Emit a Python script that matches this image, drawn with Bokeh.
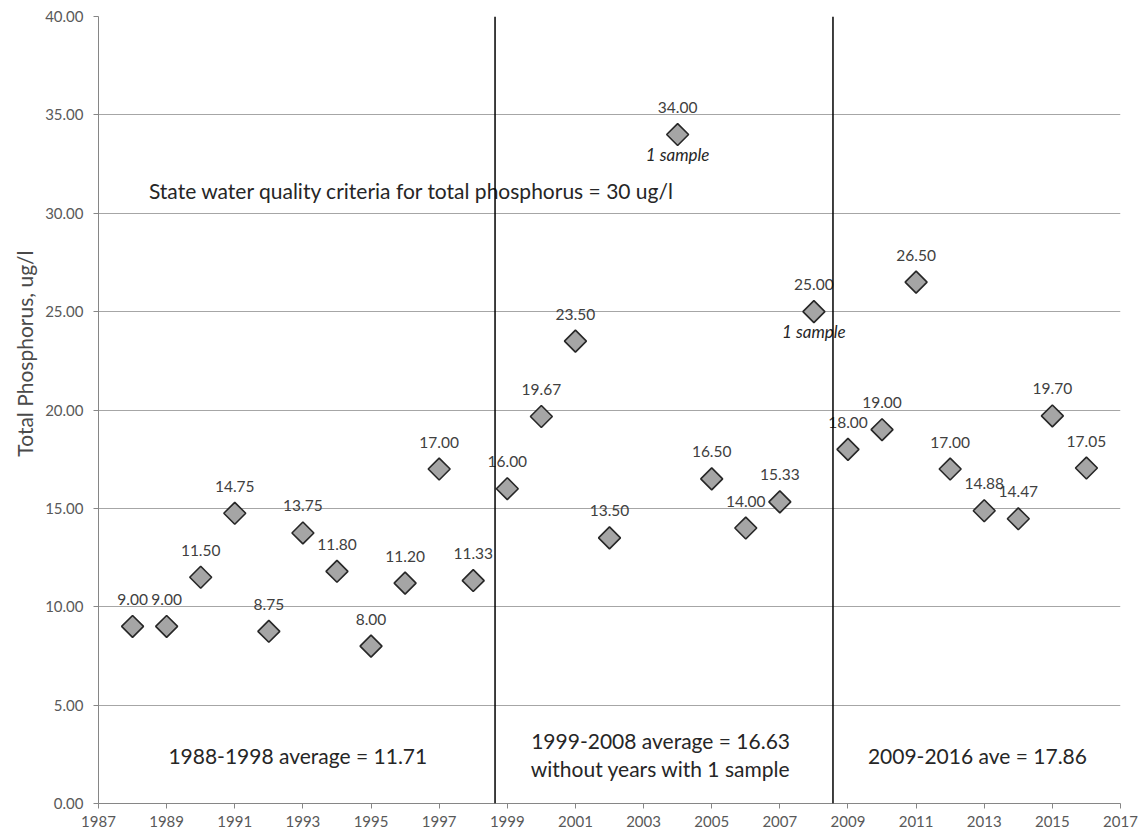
import math
from bokeh.plotting import figure
from bokeh.models import ColumnDataSource, Span, Title, NumeralTickFormatter, FixedTicker, Range1d
from bokeh.core.properties import value
from bokeh.embed import file_html
from bokeh.resources import INLINE

# ---- data ----
years = [1988, 1989, 1990, 1991, 1992, 1993, 1994, 1995, 1996, 1997, 1998,
         1999, 2000, 2001, 2002, 2004, 2005, 2006, 2007, 2008,
         2009, 2010, 2011, 2012, 2013, 2014, 2015, 2016]
phosphorus = [9.00, 9.00, 11.50, 14.75, 8.75, 13.75, 11.80, 8.00, 11.20, 17.00, 11.33,
              16.00, 19.67, 23.50, 13.50, 34.00, 16.50, 14.00, 15.33, 25.00,
              18.00, 19.00, 26.50, 17.00, 14.88, 14.47, 19.70, 17.05]
one_sample_years = [2004, 2008]
one_sample_values = [34.00, 25.00]
period_boundaries = [1998.64, 2008.56]
x_ticks = [1987, 1989, 1991, 1993, 1995, 1997, 1999, 2001, 2003, 2005, 2007,
           2009, 2011, 2013, 2015, 2017]
y_ticks = [0, 5, 10, 15, 20, 25, 30, 35, 40]
criteria_text = "State water quality criteria for total phosphorus = 30 ug/l"
period_texts = ["1988-1998 average = 11.71", "1999-2008 average = 16.63",
                "without years with 1 sample", "2009-2016 ave = 17.86"]
period_text_x = [1992.85, 2003.5, 2003.5, 2012.8]
period_text_y = [2.44, 3.2, 1.78, 2.44]
y_label = "Total Phosphorus, ug/l"

FONT = "Lato"

p = figure(width=1138, height=833, output_backend="svg", toolbar_location=None,
           x_range=Range1d(1987, 2017), y_range=Range1d(0, 40),
           min_border_left=98, min_border_right=18, min_border_top=16, min_border_bottom=30)
p.outline_line_color = None
p.background_fill_color = "white"

# axes
p.xaxis.ticker = FixedTicker(ticks=x_ticks)
p.yaxis.ticker = FixedTicker(ticks=y_ticks)
p.yaxis.formatter = NumeralTickFormatter(format="0.00")
for ax in (p.xaxis[0], p.yaxis[0]):
    ax.axis_line_color = "#868686"
    ax.major_tick_line_color = "#868686"
    ax.major_tick_in = 0
    ax.major_tick_out = 5
    ax.minor_tick_line_color = None
    ax.major_label_text_font = FONT
    ax.major_label_text_font_size = "15px"
    ax.major_label_text_color = "#595959"
p.xaxis.major_label_standoff = 7
p.yaxis.major_label_standoff = 10
p.xgrid.grid_line_color = None
p.ygrid.grid_line_color = "#a6a6a6"
p.ygrid.grid_line_width = 1

# y axis title, placed on the left side panel
p.add_layout(Title(text=y_label, align="right", offset=234, vertical_align="top",
                   standoff=8, text_font=FONT, text_font_size="21px",
                   text_font_style="normal", text_color="#4a4a4a"), "left")

# period separators
for b in period_boundaries:
    p.add_layout(Span(location=b, dimension="height", line_color="black", line_width=1.5))

src = ColumnDataSource(dict(x=years, y=phosphorus, lab=[f"{v:.2f}" for v in phosphorus]))
p.scatter("x", "y", source=src, marker="square", angle=math.pi / 4, size=15.5,
          fill_color="#a5a5a5", line_color="#262626", line_width=1.6)
p.text("x", "y", text="lab", source=src, y_offset=-27, text_align="center",
       text_baseline="middle", text_font=value(FONT), text_font_size="15.5px",
       text_color="#404040")

p.text(one_sample_years, one_sample_values, text=["1 sample"] * len(one_sample_years),
       y_offset=20, text_align="center", text_baseline="middle", text_font=value(FONT),
       text_font_style="italic", text_font_size="17px", text_color="#262626")

p.text([1988.48], [31.15], text=[criteria_text], text_align="left", text_baseline="middle",
       text_font=value(FONT), text_font_size="21px", text_color="#262626")
p.text(period_text_x, period_text_y, text=period_texts, text_align="center",
       text_baseline="middle", text_font=value(FONT), text_font_size="21px",
       text_color="#262626")

open("out.html", "w").write(file_html(p, INLINE))
